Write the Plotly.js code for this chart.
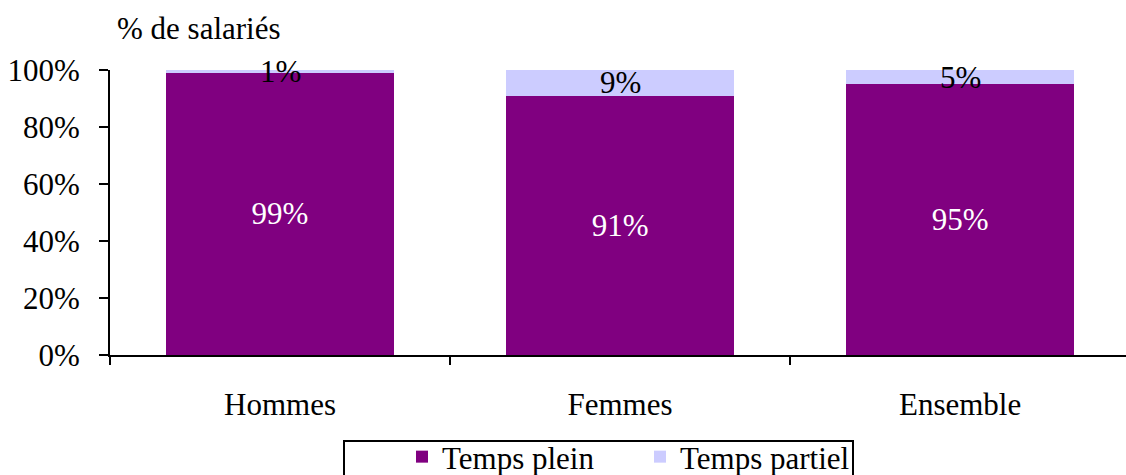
<!DOCTYPE html>
<html>
<head>
<meta charset="utf-8">
<script src="https://cdn.plot.ly/plotly-3.0.1.min.js"></script>
<style>html,body{margin:0;padding:0;background:#fff;overflow:hidden}#chart{width:1126px;height:500px}</style>
</head>
<body>
<div id="chart"></div>
<script>
const categories = ['Hommes', 'Femmes', 'Ensemble'];
const tempsPlein = [99, 91, 95];
const tempsPartiel = [1, 9, 5];
const seriesNames = ['Temps plein', 'Temps partiel'];
const yTicks = [0, 20, 40, 60, 80, 100];
const yTitle = '% de salariés';

const FONT = 'Liberation Serif, Times New Roman, serif';
const FS = 31;

const traces = [
  {
    type: 'bar', name: seriesNames[0], x: categories, y: tempsPlein,
    marker: {color: '#800080', line: {width: 0}},
    text: tempsPlein.map(v => v + '%'), textposition: 'inside', insidetextanchor: 'middle',
    textangle: 0, textfont: {color: '#ffffff', size: FS, family: FONT},
    hoverinfo: 'none'
  },
  {
    type: 'bar', name: seriesNames[1], x: categories, y: tempsPartiel,
    marker: {color: '#CCCCFF', line: {width: 0}},
    hoverinfo: 'none'
  }
];

const annotations = categories.map((c, i) => ({
  x: c, y: tempsPlein[i] + tempsPartiel[i] / 2, xref: 'x', yref: 'y',
  text: tempsPartiel[i] + '%', showarrow: false, yanchor: 'middle',
  font: {color: '#000000', size: FS, family: FONT}
}));

const TOTAL_H = 500;
const L = 110, W = 1016, T = 70, H = 285;
const px2x = p => (p - L) / W;
const py2y = p => (T + H - p) / H;

const layout = {
  width: 1126, height: TOTAL_H,
  margin: {l: L, r: 0, t: T, b: TOTAL_H - T - H, autoexpand: false},
  paper_bgcolor: '#ffffff', plot_bgcolor: '#ffffff',
  font: {family: FONT, size: FS, color: '#000000'},
  barmode: 'stack', bargap: 0.33,
  title: {text: yTitle, font: {family: FONT, size: FS, color: '#000'}, xref: 'container', yref: 'container',
          x: 117 / 1126, xanchor: 'left', y: 1 - 28 / TOTAL_H, yanchor: 'middle', pad: {l: 0, r: 0, t: 0, b: 0}},
  xaxis: {
    type: 'category', range: [-0.5, 2.488], tickson: 'boundaries', ticks: 'outside', ticklen: 8, tickwidth: 2,
    tickcolor: '#000', showline: true, linewidth: 2, linecolor: '#000', showgrid: false, zeroline: false,
    tickfont: {family: FONT, size: FS, color: '#000'}, ticklabelstandoff: 21, fixedrange: true
  },
  yaxis: {
    range: [0, 100], tickvals: yTicks, ticktext: yTicks.map(v => v + '%'), ticks: 'outside', ticklen: 9, tickwidth: 2,
    tickcolor: '#000', showline: true, linewidth: 2, linecolor: '#000', showgrid: false, zeroline: false,
    tickfont: {family: FONT, size: FS, color: '#000'}, ticklabelstandoff: 13, fixedrange: true
  },
  showlegend: true,
  legend: {
    orientation: 'h', x: px2x(402), xanchor: 'left', y: py2y(430), yanchor: 'top',
    font: {family: FONT, size: FS, color: '#000'}, borderwidth: 0, bgcolor: 'rgba(0,0,0,0)',
    entrywidth: 193, entrywidthmode: 'pixels', traceorder: 'normal', itemclick: false, itemdoubleclick: false
  },
  shapes: [{
    type: 'rect', xref: 'paper', yref: 'paper', x0: px2x(344), x1: px2x(853), y0: py2y(441), y1: py2y(495),
    line: {color: '#000', width: 2}, fillcolor: 'rgba(0,0,0,0)', layer: 'below'
  }],
  annotations: annotations
};

Plotly.newPlot('chart', traces, layout, {displayModeBar: false, staticPlot: true});
</script>
</body>
</html>
